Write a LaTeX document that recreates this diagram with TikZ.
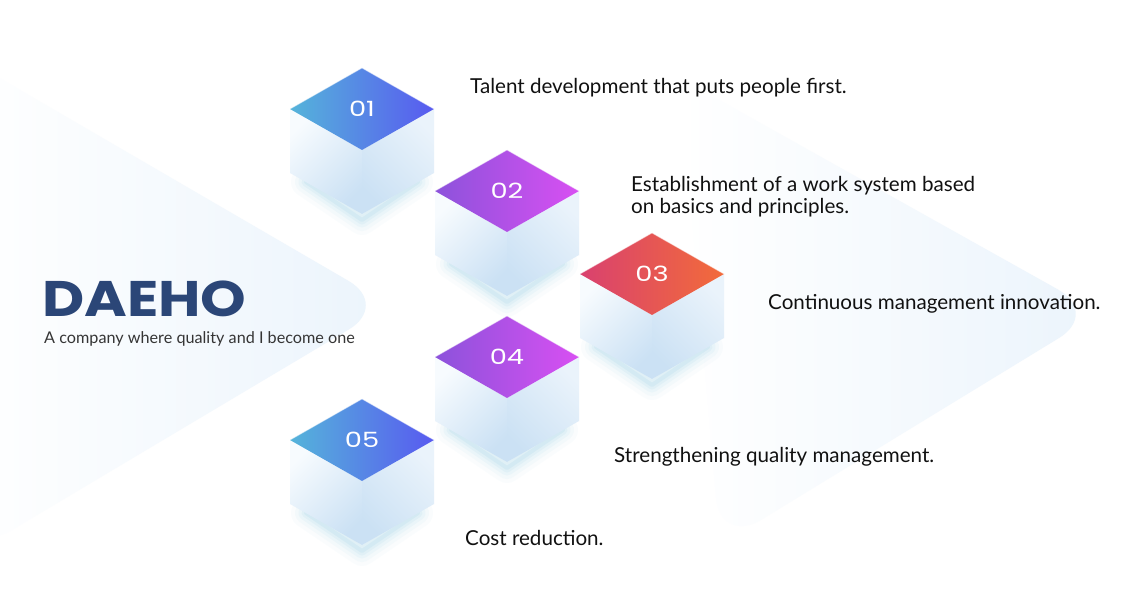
\documentclass[tikz,border=0pt]{standalone}
\usepackage{fontspec}
\setmainfont{Lato}
\newfontfamily\pop{Poppins}
\definecolor{glow}{HTML}{7FC4E0}
\definecolor{bgtip}{HTML}{EBF4FC}
\definecolor{navy}{HTML}{2B4677}
\definecolor{txt}{HTML}{111111}
\definecolor{sideA}{HTML}{F7FBFE}
\definecolor{sideB}{HTML}{CBE1F4}
\definecolor{sideC}{HTML}{EAF3FB}
\definecolor{bluL}{HTML}{55B4DA}
\definecolor{bluR}{HTML}{585AF0}
\definecolor{purL}{HTML}{8C52DB}
\definecolor{purR}{HTML}{D850F2}
\definecolor{redL}{HTML}{D9416F}
\definecolor{redR}{HTML}{F26B3A}
\tikzset{
  desc/.style={anchor=base west, inner sep=0pt, text=txt, font=\fontsize{20.6}{22}\selectfont},
  cubenum/.style={text=white, inner sep=0pt, font=\pop\fontsize{21}{21}\selectfont},
}
% #1 name, #2 x, #3 y (top vertex), #4 left colour, #5 right colour, #6 label
\newcommand\mycube[6]{%
\begin{scope}[shift={(#2,#3)}]
  \foreach \w/\o in {30/0.035,22/0.05,15/0.07,9/0.09,4/0.12}
    \draw[draw=glow, line width=\w pt, opacity=\o, line join=round, line cap=round]
      (-56,114) -- (0,152) -- (56,114);
  \shade[top color=sideA, bottom color=sideB, shading angle=45]
    (-72,41) -- (0,82) -- (0,146) -- (-72,105) -- cycle;
  \shade[top color=sideC, bottom color=sideB, shading angle=-45]
    (0,82) -- (72,41) -- (72,105) -- (0,146) -- cycle;
  \shade[left color=#4, right color=#5]
    (0,0) -- (72,41) -- (0,82) -- (-72,41) -- cycle;
  \draw[white, opacity=0.5, line width=0.8pt] (-72,41) -- (0,0) -- (72,41);
  \node[cubenum] (#1) at (0,41) {\scalebox{1.3}[1]{#6}};
\end{scope}}
\begin{document}
\begin{tikzpicture}[x=1pt,y=-1pt]
\useasboundingbox (0,0) rectangle (1128,612);
\fill[white] (0,0) rectangle (1128,612);
% background chevrons
\shade[left color=white, right color=bgtip, rounded corners=48pt]
  (-40,55) -- (390,305) -- (-30,555) -- cycle;
\shade[left color=white, right color=bgtip, rounded corners=48pt]
  (680,78) -- (1100,313) -- (720,545) -- cycle;
% cubes
\mycube{c1}{362}{68}{bluL}{bluR}{01}
\mycube{c2}{507}{150}{purL}{purR}{02}
\mycube{c3}{652}{233}{redL}{redR}{03}
\mycube{c4}{507}{316}{purL}{purR}{04}
\mycube{c5}{362}{399}{bluL}{bluR}{05}
% title
\node[anchor=base west, inner sep=0pt, text depth=0pt, text=navy, font=\pop\bfseries\fontsize{50}{50}\selectfont] (title) at (42,317) {\scalebox{1.16}[1]{DAEHO}};
\node[anchor=base west, inner sep=0pt, text=txt!85, font=\fontsize{16.2}{18}\selectfont] (tag) at (44,344) {A company where quality and I become one};
% descriptions
\node[desc] (t1) at (470,94) {Talent development that puts people first.};
\node[desc] (t2a) at (631,192) {Establishment of a work system based};
\node[desc] (t2b) at (631,214) {on basics and principles.};
\node[desc] (t3) at (768,310) {Continuous management innovation.};
\node[desc] (t4) at (614,462) {Strengthening quality management.};
\node[desc] (t5) at (465,545) {Cost reduction.};
\end{tikzpicture}
\end{document}
